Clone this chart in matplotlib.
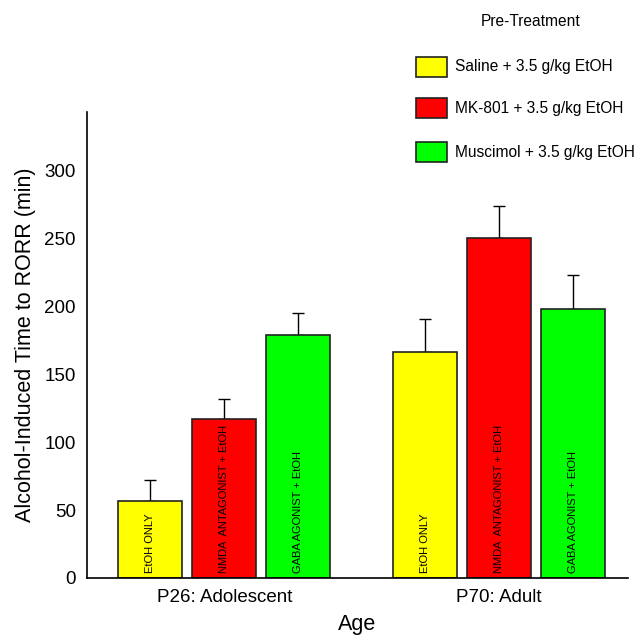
import matplotlib.pyplot as plt
from matplotlib.patches import Rectangle
import numpy as np

plt.rcParams['font.family'] = ['Liberation Sans', 'DejaVu Sans']

# 数据
groups = ['P26: Adolescent', 'P70: Adult']
treatments = ['Saline + 3.5 g/kg EtOH', 'MK-801 + 3.5 g/kg EtOH', 'Muscimol + 3.5 g/kg EtOH']
bar_text = ['EtOH ONLY', 'NMDA  ANTAGONIST + EtOH', 'GABA AGONIST + EtOH']
colors = ['#FFFF00', '#FF0000', '#00FF00']
means = {
    'P26: Adolescent': [57, 117, 179],
    'P70: Adult': [166, 250, 198],
}
sems = {
    'P26: Adolescent': [15, 15, 16],
    'P70: Adult': [25, 24, 25],
}

W, H = 641, 635
fig = plt.figure(figsize=(W / 100, H / 100), dpi=100)
ax = fig.add_axes([87 / W, 57 / H, 541 / W, 466 / H])

x = np.arange(len(groups))
step = 0.269
width = 0.233

for k, name in enumerate(treatments):
    vals = [means[g][k] for g in groups]
    errs = [sems[g][k] for g in groups]
    pos = x + (k - 1) * step
    ax.bar(pos, vals, width, color=colors[k], edgecolor='#222222', linewidth=1.2, zorder=2)
    ax.errorbar(pos, vals, yerr=[np.zeros(len(errs)), errs], fmt='none',
                ecolor='black', elinewidth=1, capsize=4.5, capthick=1, zorder=1)
    for p in pos:
        ax.text(p, 4, bar_text[k], rotation=90, ha='center', va='bottom',
                fontsize=8, zorder=3)

ax.set_xlim(-0.5, 1.47)
ax.set_ylim(0, 343)
ax.set_yticks([0, 50, 100, 150, 200, 250, 300])
ax.set_xticks(x)
ax.set_xticklabels(groups)
ax.tick_params(axis='both', length=0, labelsize=13.5, pad=8)
ax.spines['top'].set_visible(False)
ax.spines['right'].set_visible(False)
ax.spines['left'].set_linewidth(1.2)
ax.spines['bottom'].set_linewidth(1.2)
ax.set_ylabel('Alcohol-Induced Time to RORR (min)', fontsize=15.5, labelpad=6)
ax.set_xlabel('Age', fontsize=15.5, labelpad=6)

# 图例（手动放置）
fig.text(531 / W, 1 - 22 / H, 'Pre-Treatment', ha='center', va='center', fontsize=11.2)
leg_y = [67, 108, 152]
for k, name in enumerate(treatments):
    yc = 1 - leg_y[k] / H
    fig.add_artist(Rectangle((416 / W, yc - 10 / H), 31 / W, 20 / H,
                             facecolor=colors[k], edgecolor='#222222', linewidth=1.2,
                             transform=fig.transFigure))
    fig.text(455 / W, yc, name, ha='left', va='center', fontsize=11.2)

plt.savefig('out.png')
plt.close()
